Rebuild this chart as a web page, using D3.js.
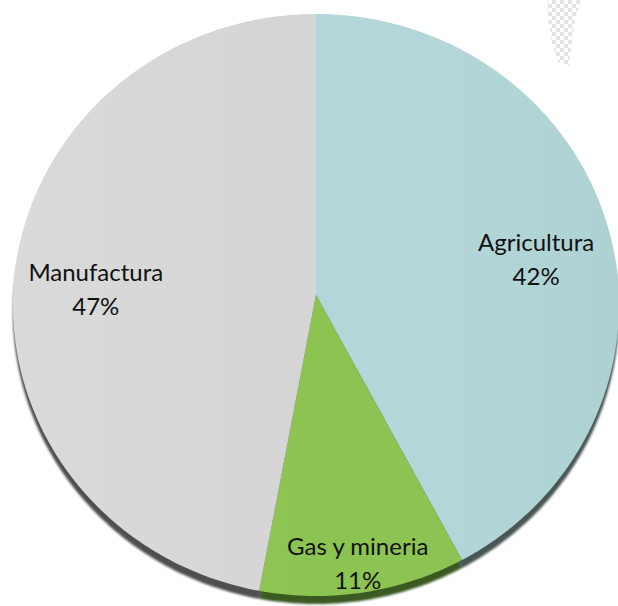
<!DOCTYPE html>
<html>
<head>
<meta charset="utf-8">
<script src="https://cdn.jsdelivr.net/npm/d3@7/dist/d3.min.js"></script>
<style>
  html, body { margin: 0; padding: 0; background: #fff; }
  svg { display: block; }
</style>
</head>
<body>
<div id="chart"></div>
<script>
const categories = ["Agricultura", "Gas y mineria", "Manufactura"];
const shares = [42, 11, 47];
const labels = ["42%", "11%", "47%"];

const width = 618, height = 606;
// tilted pie: ellipse outline, apex of slices a little above its centre
const cx = 316, cy = 305;
const rx = 303, ry = 291;
const apex = { x: 316, y: 295 };

const fills = ["#b3d7d9", "#8cc452", "#d5d5d5"];
const rims = ["#4a5656", "#3b5a22", "#505050"];
// label placement along each slice's mid angle (fraction of radius) + vertical nudge
const labelRadius = [0.75, 0.88, 0.73];
const labelNudge = [14, 11, 10];

const svg = d3.select("#chart")
    .append("svg")
    .attr("width", width)
    .attr("height", height);

const defs = svg.append("defs");

const blur = defs.append("filter").attr("id", "soft")
    .attr("x", "-10%").attr("y", "-10%").attr("width", "120%").attr("height", "120%");
blur.append("feGaussianBlur").attr("stdDeviation", 1.1);

const checker = defs.append("pattern")
    .attr("id", "checker")
    .attr("width", 8).attr("height", 8)
    .attr("patternUnits", "userSpaceOnUse");
checker.append("rect").attr("width", 4).attr("height", 4).attr("fill", "#e4e4e4");
checker.append("rect").attr("x", 4).attr("y", 4).attr("width", 4).attr("height", 4).attr("fill", "#e4e4e4");

// leftover transparency artefact top right
svg.append("path")
    .attr("d", "M547,0 L583,0 L576,14 L572,40 L569,66 L558,62 L552,42 L548,20 Z")
    .attr("fill", "url(#checker)");

const data = categories.map((c, i) => ({ name: c, value: shares[i], label: labels[i] }));

const pie = d3.pie()
    .sort(null)
    .value(d => d.value)
    .startAngle(0)
    .endAngle(2 * Math.PI);

const arcs = pie(data);

function rimPoint(a, dy)
{
    return [cx + rx * Math.sin(a), cy + dy - ry * Math.cos(a)];
}

function slicePath(d, dy)
{
    const pts = [[apex.x, apex.y + dy]];
    const steps = Math.max(8, Math.ceil((d.endAngle - d.startAngle) * 60));
    for(let s = 0; s <= steps; s++)
    {
        const a = d.startAngle + (d.endAngle - d.startAngle) * s / steps;
        pts.push(rimPoint(a, dy));
    }
    return d3.line()(pts) + "Z";
}

// dark side of the disc
svg.append("g")
    .attr("filter", "url(#soft)")
    .selectAll("path")
    .data(arcs)
    .join("path")
    .attr("d", d => slicePath(d, 8))
    .attr("fill", d => rims[d.index]);

const grad = defs.append("linearGradient")
    .attr("id", "sheen")
    .attr("x1", "0").attr("y1", "0").attr("x2", "1").attr("y2", "0");
grad.append("stop").attr("offset", "0%").attr("stop-color", "#fff").attr("stop-opacity", 0.12);
grad.append("stop").attr("offset", "50%").attr("stop-color", "#fff").attr("stop-opacity", 0.0);
grad.append("stop").attr("offset", "100%").attr("stop-color", "#000").attr("stop-opacity", 0.03);

const face = svg.append("g");

face.selectAll("path.slice")
    .data(arcs)
    .join("path")
    .attr("class", "slice")
    .attr("d", d => slicePath(d, 0))
    .attr("fill", d => fills[d.index]);

face.append("ellipse")
    .attr("cx", cx).attr("cy", cy)
    .attr("rx", rx).attr("ry", ry)
    .attr("fill", "url(#sheen)");

// labels
const lab = svg.append("g")
    .attr("font-family", "Lato, 'Open Sans', sans-serif")
    .attr("font-size", 24)
    .attr("fill", "#111")
    .attr("text-anchor", "middle");

arcs.forEach(d => {
    const a = (d.startAngle + d.endAngle) / 2;
    const k = labelRadius[d.index];
    const x = cx + rx * k * Math.sin(a);
    const y = apex.y - ry * k * Math.cos(a) + labelNudge[d.index];
    const t = lab.append("text").attr("x", x).attr("y", y);
    t.append("tspan").attr("x", x).attr("dy", "-0.15em").text(d.data.name);
    t.append("tspan").attr("x", x).attr("dy", "1.4em").text(d.data.label);
});
</script>
</body>
</html>
